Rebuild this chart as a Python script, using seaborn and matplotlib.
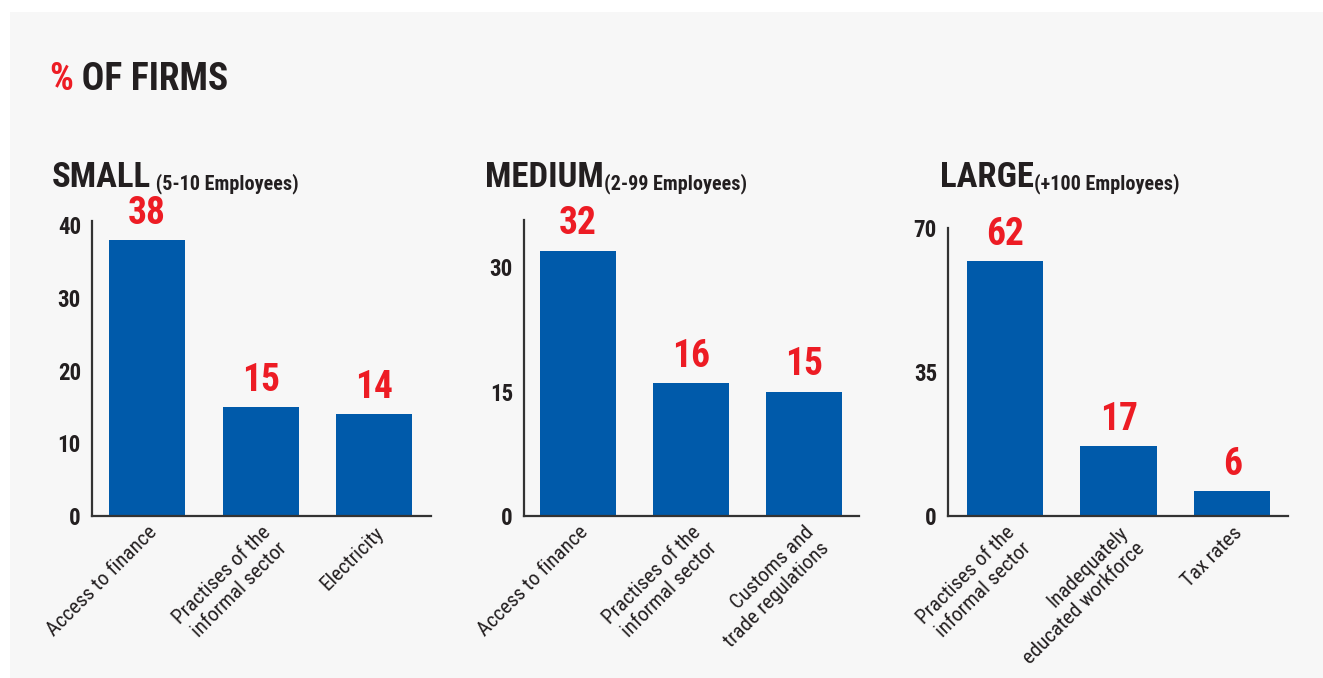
import numpy as np
import pandas as pd
import matplotlib
matplotlib.use('Agg')
import matplotlib.pyplot as plt
import seaborn as sns
from matplotlib.patches import Rectangle
from matplotlib.text import Annotation
from matplotlib.ticker import MultipleLocator, FixedLocator

# Data
small_labels = ["Access to finance", "Practises of the\ninformal sector", "Electricity"]
small_values = [38, 15, 14]

medium_labels = ["Access to finance", "Practises of the\ninformal sector", "Customs and\ntrade regulations"]
medium_values = [32, 16, 15]

large_labels = ["Practises of the\ninformal sector", "Inadequately\neducated workforce", "Tax rates"]
large_values = [62, 17, 6]

panel_names = ["SMALL", "MEDIUM", "LARGE"]
panel_subs = [" (5-10 Employees)", "(2-99 Employees)", "(+100 Employees)"]
panel_yticks = [[0, 10, 20, 30, 40], [0, 15, 30], [0, 35, 70]]

# Style
sns.set_style("white")
plt.rcParams['font.family'] = ['Roboto Condensed', 'DejaVu Sans']

BLUE = "#005aaa"
RED = "#ed1c24"
DARK = "#231f20"
BG = "#f7f7f7"

W, H = 1323, 678
fig = plt.figure(figsize=(W / 100, H / 100), dpi=100, facecolor="white")
fig.patches.append(Rectangle((10 / W, 0), 1, 1 - 12 / H, transform=fig.transFigure,
                             facecolor=BG, edgecolor="none", zorder=-10))


def px_rect(left, right, top, bottom):
    return [left / W, 1 - bottom / H, (right - left) / W, (bottom - top) / H]


def text_after(prev, s, **kw):
    # place a text right after another one
    a = Annotation(s, xy=(1, 0), xycoords=prev, va="bottom", ha="left", **kw)
    fig.add_artist(a)
    return a


# Main title
t = fig.text(49 / W, 1 - 90 / H, "%", color=RED, fontsize=27, fontweight="bold",
             va="baseline")
text_after(t, " OF FIRMS", fontsize=27, fontweight="bold", color=DARK)

panels = [
    (small_labels, small_values, (92, 431, 221, 516), 40.6, (-0.485, 2.5), 52, True),
    (medium_labels, medium_values, (524, 859, 220, 516), 35.7, (-0.48, 2.49), 485, True),
    (large_labels, large_values, (948, 1288, 228, 516), 70, (-0.5, 2.49), 940, False),
]

for i, (labels, values, rect, ytop, xlim, title_x, minor) in enumerate(panels):
    ax = fig.add_axes(px_rect(*rect))
    ax.set_facecolor("none")
    df = pd.DataFrame({"cause": labels, "pct": values})
    sns.barplot(data=df, x="cause", y="pct", ax=ax, color=BLUE, width=0.67,
                saturation=1, edgecolor="none")
    ax.set_xlim(*xlim)
    ax.set_ylim(0, ytop)
    ax.set_xlabel("")
    ax.set_ylabel("")

    # value labels
    ax.bar_label(ax.containers[0], labels=[str(v) for v in values], padding=6,
                 color=RED, fontsize=27, fontweight="bold")

    # axes styling
    for side in ["top", "right"]:
        ax.spines[side].set_visible(False)
    for side in ["left", "bottom"]:
        ax.spines[side].set_color("#333333")
        ax.spines[side].set_linewidth(1.6)

    ax.yaxis.set_major_locator(FixedLocator(panel_yticks[i]))
    if minor:
        ax.yaxis.set_minor_locator(MultipleLocator(5))
    ax.tick_params(axis="y", which="both", direction="in", length=4, width=1.4,
                   color="#333333", pad=8, labelsize=16.5)
    for lab in ax.get_yticklabels():
        lab.set_fontweight("bold")
        lab.set_color(DARK)

    ax.set_xticks(range(len(labels)))
    ax.set_xticklabels(labels, rotation=45, ha="right", va="top",
                       rotation_mode="anchor", multialignment="right",
                       fontsize=15, color=DARK, linespacing=1.25)
    ax.tick_params(axis="x", length=0, pad=5)

    # panel title
    pt = fig.text(title_x / W, 1 - 187 / H, panel_names[i], fontsize=25,
                  fontweight="bold", color=DARK, va="baseline")
    text_after(pt, panel_subs[i], fontsize=14.5, fontweight="bold", color=DARK)

fig.savefig("out.png", dpi=100, facecolor=fig.get_facecolor())
